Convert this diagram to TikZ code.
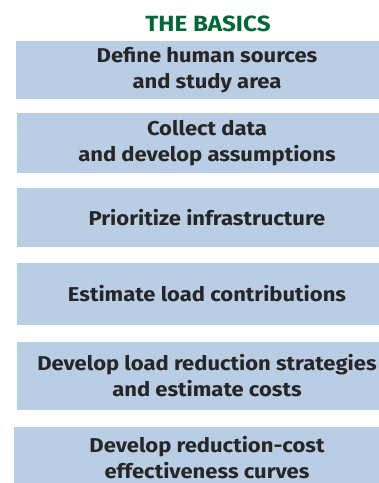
\documentclass[tikz,border=0pt]{standalone}
\usepackage{fontspec}
\setmainfont{Fira Sans}[FakeStretch=1.1]
\usepackage{tikz}
\definecolor{basicsgreen}{RGB}{0,104,56}
\definecolor{stepblue}{RGB}{185,205,228}
\definecolor{steptext}{RGB}{38,38,38}

\begin{document}
\begin{tikzpicture}[x=1pt,y=1pt,
  stepbox/.style={fill=stepblue,text=steptext,align=center,inner sep=0pt,
    font=\bfseries\fontsize{20}{26}\selectfont,minimum width=380pt}]
\useasboundingbox (0,0) rectangle (379,483);
\node[text=basicsgreen,font=\bfseries\fontsize{22}{22}\selectfont] (title) at (208,459) {THE BASICS};
\node[stepbox,minimum width=382pt,minimum height=58pt] (define) at (207,413) {Define human sources\\and study area};
\node[stepbox,minimum height=60pt] (collect) at (207,340) {Collect data\\and develop assumptions};
\node[stepbox,minimum height=59pt] (prioritize) at (207,265.5) {Prioritize infrastructure};
\node[stepbox,minimum height=62pt] (estimate) at (207,189) {Estimate load contributions};
\node[stepbox,minimum height=68pt] (develop) at (207,107) {Develop load reduction strategies\\and estimate costs};
%\node[stepbox] (curves) at (207,20) {};
\node[stepbox,minimum width=386pt,minimum height=62pt] (curves) at (207,25) {Develop reduction-cost\\effectiveness curves};
\end{tikzpicture}
\end{document}
